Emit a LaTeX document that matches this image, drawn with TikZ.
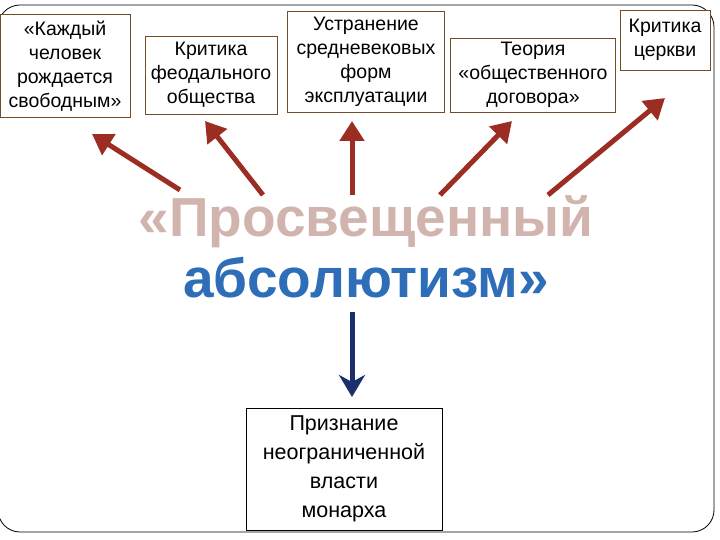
\documentclass[tikz,border=0pt]{standalone}
\usepackage{fontspec}
\setmainfont{Liberation Sans}
\usetikzlibrary{arrows.meta}
\definecolor{ared}{HTML}{9B2D23}
\definecolor{ablue}{HTML}{1A2F6B}
\definecolor{tblue}{HTML}{2E6DB8}
\definecolor{tpink}{HTML}{D2B4AE}
\tikzset{
  box/.style={draw=brown!60!black,line width=0.8pt,fill=white,align=center,font=\fontsize{19.5}{24}\selectfont,inner sep=3pt},
  rarr/.style={draw=ared,line width=5pt,-{Stealth[length=20pt,width=24pt,inset=0pt]}},
  barr/.style={draw=ablue,line width=5pt,-{Stealth[length=22pt,width=26pt,inset=7pt]}},
  ttl/.style={font=\fontsize{55}{55}\selectfont\bfseries},
}
\begin{document}
\begin{tikzpicture}[x=1pt,y=-1pt]
\useasboundingbox (0,0) rectangle (720,540);
\draw[line width=0.8pt,rounded corners=22pt] (-2,5) rectangle (714,532);
\node[box,minimum width=130,minimum height=103] (b1) at (65,66) {«Каждый\\человек\\рождается\\свободным»};
\node[box,minimum width=132,minimum height=78] (b2) at (211,75) {Критика\\феодального\\общества};
\node[box,minimum width=157,minimum height=101] (b3) at (366,62) {Устранение\\средневековых\\форм\\эксплуатации};
\node[box,minimum width=165,minimum height=74] (b4) at (533,75) {Теория\\«общественного\\договора»};
\node[box,minimum width=90,minimum height=60] (b5) at (665,40) {Критика\\церкви};
\node[box,draw=black,minimum width=196,minimum height=122,font=\fontsize{21.5}{29}\selectfont] (b6) at (344,469) {Признание\\неограниченной\\власти\\монарха};
\node[ttl,text=tpink] (t1) at (366,222) {«Просвещенный};
\node[ttl,text=tblue] (t2) at (366,278) {абсолютизм»};
\coordinate (s1) at (180,190); \coordinate (e1) at (92,134);
\coordinate (s2) at (263,195); \coordinate (e2) at (205,121);
\coordinate (s3) at (352,195); \coordinate (e3) at (352,121);
\coordinate (s4) at (440,195); \coordinate (e4) at (512,121);
\coordinate (s5) at (548,195); \coordinate (e5) at (665,98);
\foreach \i in {1,...,5}{\draw[rarr] (s\i) -- (e\i);}
\coordinate (s6) at (352,312); \coordinate (e6) at (352,397);
\draw[barr] (s6) -- (e6);
\end{tikzpicture}
\end{document}
